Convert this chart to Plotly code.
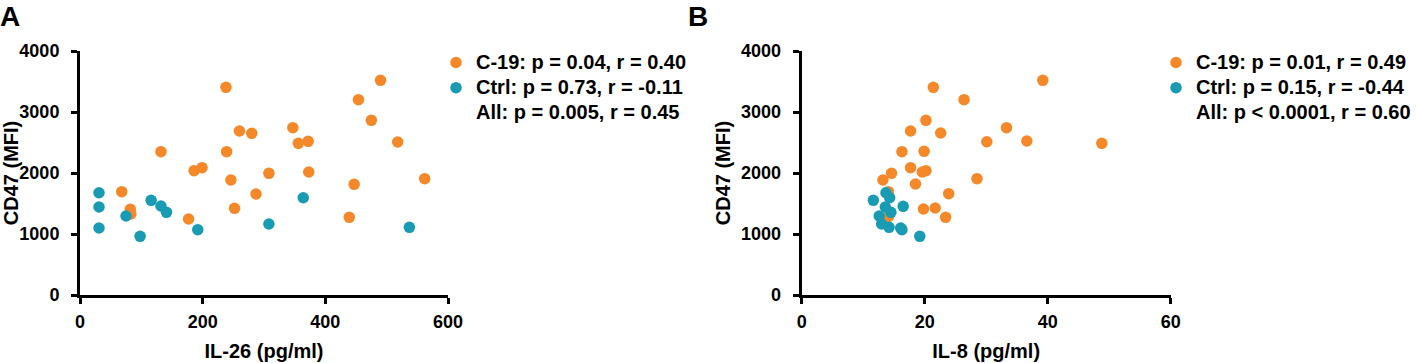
import plotly.graph_objects as go

# Panel A: IL-26 vs CD47
a_c19_x = [238, 132, 68, 82, 83, 186, 199, 177, 239, 246, 252, 260, 280, 287, 308, 347, 356, 372, 373, 439, 447, 454, 475, 490, 518, 562]
a_c19_y = [3404, 2350, 1694, 1404, 1328, 2038, 2087, 1246, 2350, 1885, 1421, 2688, 2650, 1656, 1994, 2743, 2486, 2519, 2016, 1273, 1814, 3202, 2863, 3519, 2508, 1907]
a_ctrl_x = [31, 31, 31, 75, 98, 116, 132, 141, 192, 308, 364, 537]
a_ctrl_y = [1677, 1443, 1098, 1295, 962, 1552, 1459, 1355, 1071, 1164, 1595, 1109]

# Panel B: IL-8 vs CD47
b_c19_x = [21.4, 26.4, 39.2, 20.2, 17.7, 22.6, 33.3, 30.1, 36.6, 48.8, 16.3, 19.9, 17.7, 19.6, 20.2, 14.6, 13.2, 18.5, 28.5, 23.9, 14.1, 19.8, 21.7, 23.4, 14.1, 14.3]
b_c19_y = [3404, 3202, 3519, 2863, 2688, 2656, 2743, 2513, 2524, 2486, 2350, 2355, 2087, 2016, 2038, 1994, 1885, 1820, 1907, 1661, 1694, 1410, 1426, 1273, 1284, 1330]
b_ctrl_x = [11.65, 13.7, 14.3, 16.5, 13.6, 14.5, 12.6, 13.0, 14.2, 16.1, 16.3, 19.2]
b_ctrl_y = [1552, 1677, 1595, 1453, 1443, 1355, 1295, 1164, 1109, 1098, 1071, 962]

a_labels = ["C-19: p = 0.04, r = 0.40", "Ctrl: p = 0.73, r = -0.11", "All: p = 0.005, r = 0.45"]
b_labels = ["C-19: p = 0.01, r = 0.49", "Ctrl: p = 0.15, r = -0.44", "All: p < 0.0001, r = 0.60"]

a_xticks = [0, 200, 400, 600]
b_xticks = [0, 20, 40, 60]
yticks = [0, 1000, 2000, 3000, 4000]

ORANGE = "#F5892A"
TEAL = "#1A9BB4"
FONT = "Arial, Liberation Sans, sans-serif"

fig = go.Figure()


def lab(t):
    return '<span style="font-size:20px">' + t + '</span>'


def add_panel(xs_c, ys_c, xs_t, ys_t, labels, xa, ya, leg):
    fig.add_trace(go.Scatter(x=xs_c, y=ys_c, mode="markers", name=lab(labels[0]),
                             marker=dict(color=ORANGE, size=11.5), xaxis=xa, yaxis=ya, legend=leg,
                             cliponaxis=False))
    fig.add_trace(go.Scatter(x=xs_t, y=ys_t, mode="markers", name=lab(labels[1]),
                             marker=dict(color=TEAL, size=11.5), xaxis=xa, yaxis=ya, legend=leg,
                             cliponaxis=False))
    fig.add_trace(go.Scatter(x=[None], y=[None], mode="markers", name=lab(labels[2]),
                             marker=dict(color="rgba(0,0,0,0)", size=11.5), xaxis=xa, yaxis=ya, legend=leg))


add_panel(a_c19_x, a_c19_y, a_ctrl_x, a_ctrl_y, a_labels, "x", "y", "legend")
add_panel(b_c19_x, b_c19_y, b_ctrl_x, b_ctrl_y, b_labels, "x2", "y2", "legend2")

W, H = 1417, 363
axis_common = dict(showline=True, linewidth=3, linecolor="black", ticks="outside",
                   ticklen=6, tickwidth=3, tickcolor="black", showgrid=False, zeroline=False,
                   tickfont=dict(family=FONT, size=18, color="black", weight="bold"),
                   mirror=False, automargin=False)
title_font = dict(family=FONT, size=20, color="black", weight="bold")
leg_font = dict(family=FONT, size=17, color="black", weight="bold")

ydom = [1 - 295 / H, 1 - 51 / H]
fig.update_layout(
    width=W, height=H,
    margin=dict(l=0, r=0, t=0, b=0, autoexpand=False),
    plot_bgcolor="white", paper_bgcolor="white",
    font=dict(family=FONT, color="black"),
    xaxis=dict(domain=[80 / W, 448 / W], range=[0, 600], tickvals=a_xticks, anchor="y",
               ticklabelstandoff=2,
               title=dict(text="IL-26 (pg/ml)", standoff=14, font=title_font), **axis_common),
    yaxis=dict(domain=ydom, range=[0, 4000], tickvals=yticks, anchor="x",
               ticklabelstandoff=8,
               title=dict(text="CD47 (MFI)", standoff=6, font=title_font), **axis_common),
    xaxis2=dict(domain=[801.7 / W, 1170.7 / W], range=[0, 60], tickvals=b_xticks, anchor="y2",
                ticklabelstandoff=2,
                title=dict(text="IL-8 (pg/ml)", standoff=14, font=title_font), **axis_common),
    yaxis2=dict(domain=ydom, range=[0, 4000], tickvals=yticks, anchor="x2",
                ticklabelstandoff=8,
                title=dict(text="CD47 (MFI)", standoff=6, font=title_font), **axis_common),
    legend=dict(x=436 / W, y=1 - 45 / H, xanchor="left", yanchor="top", font=leg_font,
                bgcolor="rgba(0,0,0,0)", itemclick=False, tracegroupgap=0),
    legend2=dict(x=1156 / W, y=1 - 45 / H, xanchor="left", yanchor="top", font=leg_font,
                 bgcolor="rgba(0,0,0,0)", itemclick=False, tracegroupgap=0),
    annotations=[
        dict(text="A", x=0, y=1, xref="paper", yref="paper", xanchor="left", yanchor="top",
             showarrow=False, font=dict(family=FONT, size=28, color="black", weight="bold"),
             xshift=-2, yshift=1),
        dict(text="B", x=686 / W, y=1, xref="paper", yref="paper", xanchor="left", yanchor="top",
             showarrow=False, font=dict(family=FONT, size=28, color="black", weight="bold"),
             yshift=1),
    ],
    modebar=dict(bgcolor="rgba(0,0,0,0)", color="rgba(0,0,0,0)", activecolor="rgba(0,0,0,0)"),
)

fig.write_html("out.html", config={"displayModeBar": False},
               post_script="document.body.style.margin='0';")
